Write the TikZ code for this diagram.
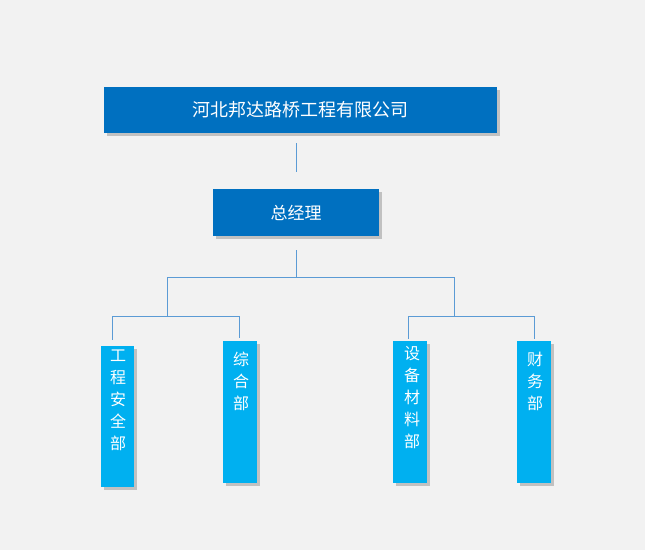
\documentclass[tikz,border=0pt]{standalone}
\usepackage{fontspec}
\setmainfont{Noto Sans CJK SC}
\usetikzlibrary{shadows}
\definecolor{bg}{HTML}{F2F2F2}
\definecolor{dblue}{HTML}{0070C0}
\definecolor{lblue}{HTML}{00B0F0}
\definecolor{lnc}{HTML}{5B9BD5}
\begin{document}
\begin{tikzpicture}[x=1pt,y=-1pt,
  box/.style={fill=#1,draw=none,text=white,inner sep=0,drop shadow={shadow xshift=3pt,shadow yshift=-3pt,opacity=0.35,fill=black!60}},
  ln/.style={draw=lnc,line width=0.8pt}]
\fill[bg] (0,0) rectangle (645,550);
\useasboundingbox (0,0) rectangle (645,550);
\node[box=dblue,minimum width=393pt,minimum height=46pt,font=\fontsize{18}{20}\selectfont] (top) at (300.5,110) {河北邦达路桥工程有限公司};
\node[box=dblue,minimum width=166pt,minimum height=47pt,font=\fontsize{17}{20}\selectfont] (gm) at (296,212.5) {总经理};
\node[box=lblue,minimum width=33pt,minimum height=141pt] (d1) at (117.5,416.5) {};
\node[box=lblue,minimum width=34pt,minimum height=142pt] (d2) at (240,412) {};
\node[box=lblue,minimum width=34pt,minimum height=142pt] (d3) at (410,412) {};
\node[box=lblue,minimum width=34pt,minimum height=142pt] (d4) at (534,412) {};
\tikzset{vt/.style={anchor=north,text=white,align=center,font=\fontsize{16}{22}\selectfont,inner sep=0}}
\node[vt] (t1) at (118,350) {工\\程\\安\\全\\部};
\node[vt] (t2) at (241,352) {综\\合\\部};
\node[vt] (t3) at (412,346) {设\\备\\材\\料\\部};
\node[vt] (t4) at (535,352) {财\\务\\部};
\coordinate (c0a) at (296,143); \coordinate (c0b) at (296,172);
\draw[ln] (c0a) -- (c0b);
\coordinate (g0) at (296,250); \coordinate (g1) at (296,277);
\coordinate (hl) at (167,277); \coordinate (hr) at (454,277);
\coordinate (ll) at (167,316); \coordinate (rr) at (454,316);
\draw[ln] (g0) -- (g1);
\draw[ln] (hl) -- (hr);
\draw[ln] (hl) -- (ll);
\draw[ln] (hr) -- (rr);
\coordinate (a1) at (112,316); \coordinate (a2) at (239,316);
\coordinate (a3) at (408,316); \coordinate (a4) at (534,316);
\draw[ln] (a1) -- (a2);
\draw[ln] (a3) -- (a4);
\draw[ln] (a1) -- (112,340);
\draw[ln] (a2) -- (239,338);
\draw[ln] (a3) -- (408,339);
\draw[ln] (a4) -- (534,339);
\end{tikzpicture}
\end{document}
